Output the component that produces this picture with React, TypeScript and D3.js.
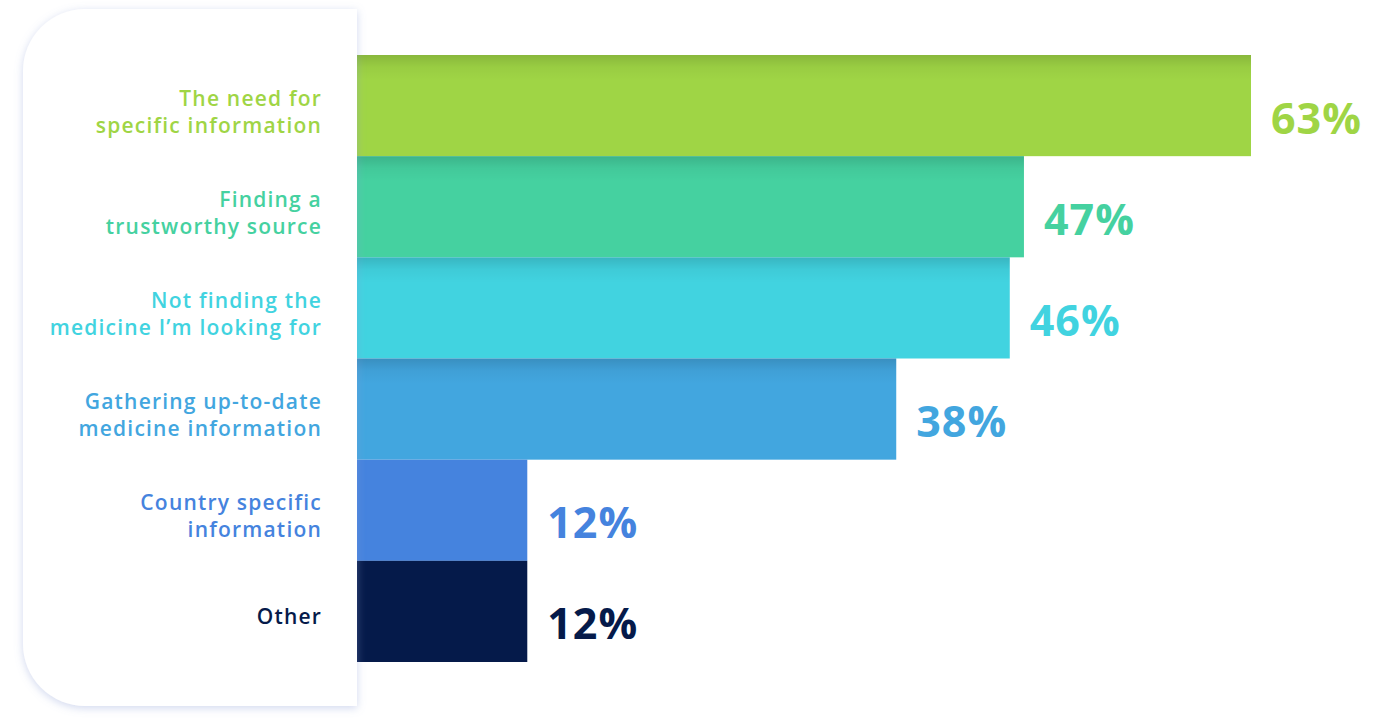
import React from "react";
import * as d3 from "d3";

const categories: string[][] = [
  ["The need for", "specific information"],
  ["Finding a", "trustworthy source"],
  ["Not finding the", "medicine I\u2019m looking for"],
  ["Gathering up-to-date", "medicine information"],
  ["Country specific", "information"],
  ["Other"],
];
const values: number[] = [63, 47, 46, 38, 12, 12];
const colors: string[] = ["#9fd545", "#45d1a0", "#41d3e0", "#42a6df", "#4583de", "#051a4a"];

const W = 1383;
const H = 725;
const barLeft = 357;
const barTop = 55;
const barBottom = 662;
const cardLeft = 23;
const cardTop = 9;
const cardBottom = 706;
const cardR = 62;
const FONT = "'Open Sans', 'Noto Sans', sans-serif";

export default function App() {
  const x = d3.scaleLinear().domain([0, 63]).range([barLeft, 1251]);
  const y = d3
    .scaleBand<number>()
    .domain(values.map((_, i) => i))
    .range([barTop, barBottom])
    .padding(0);
  const bh = y.bandwidth();

  const cardPath = d3.path();
  cardPath.moveTo(barLeft, cardTop);
  cardPath.lineTo(cardLeft + cardR, cardTop);
  cardPath.arcTo(cardLeft, cardTop, cardLeft, cardTop + cardR, cardR);
  cardPath.lineTo(cardLeft, cardBottom - cardR);
  cardPath.arcTo(cardLeft, cardBottom, cardLeft + cardR, cardBottom, cardR);
  cardPath.lineTo(barLeft, cardBottom);
  cardPath.closePath();

  return (
    <svg
      width={W}
      height={H}
      style={{ position: "absolute", left: 0, top: 0, background: "#fff" }}
    >
      <defs>
        <filter id="cardShadow" x="-20%" y="-20%" width="140%" height="140%">
          <feDropShadow dx="0" dy="2" stdDeviation="4.5" floodColor="#8a9bd6" floodOpacity="0.4" />
        </filter>
        <linearGradient id="topShade" x1="0" y1="0" x2="0" y2="1">
          <stop offset="0" stopColor="#000" stopOpacity="0.14" />
          <stop offset="0.12" stopColor="#000" stopOpacity="0.04" />
          <stop offset="0.25" stopColor="#000" stopOpacity="0" />
        </linearGradient>
      </defs>

      <g>
        {values.map((v, i) => (
          <g key={i}>
            <rect
              x={barLeft}
              y={y(i)!}
              width={x(v) - barLeft}
              height={bh}
              fill={colors[i]}
            />
            {i < 4 && (
              <rect
                x={barLeft}
                y={y(i)!}
                width={x(v) - barLeft}
                height={bh}
                fill="url(#topShade)"
              />
            )}
          </g>
        ))}
      </g>

      <path d={cardPath.toString()} fill="#fff" filter="url(#cardShadow)" />

      <g fontFamily={FONT}>
        {categories.map((lines, i) => {
          const cy = y(i)! + bh / 2;
          const base = lines.length === 1 ? cy + 13 : cy;
          return (
            <text
              key={i}
              x={322}
              y={base}
              textAnchor="end"
              fontSize={21}
              fontWeight={600}
              letterSpacing={1.2}
              fill={colors[i]}
            >
              {lines.map((l, j) => (
                <tspan key={j} x={322} y={base + j * 27}>
                  {l}
                </tspan>
              ))}
            </text>
          );
        })}
        {values.map((v, i) => (
          <text
            key={i}
            x={x(v) + 20}
            y={y(i)! + bh / 2 + 28}
            fontSize={43}
            fontWeight={700}
            letterSpacing={1}
            fill={colors[i]}
          >
            {v}%
          </text>
        ))}
      </g>
    </svg>
  );
}
